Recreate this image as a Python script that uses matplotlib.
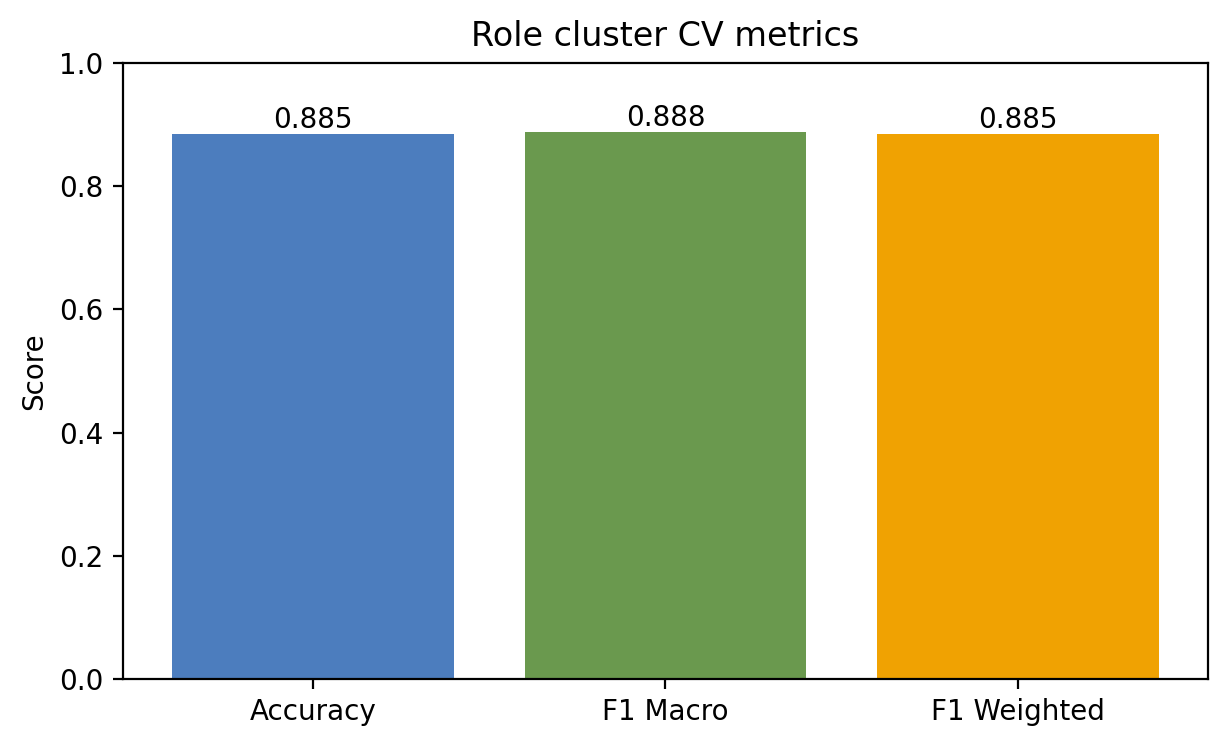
import matplotlib
matplotlib.use("Agg")
import matplotlib.pyplot as plt

# data
metrics = ["Accuracy", "F1 Macro", "F1 Weighted"]
scores = [0.885, 0.888, 0.885]
colors = ["#4c7dbe", "#6a994e", "#f0a202"]

fig = plt.figure(figsize=(6.135, 3.73), dpi=200)
ax = fig.add_axes([0.1002, 0.0898, 0.8843, 0.8257])

bars = ax.bar(metrics, scores, color=colors)
ax.bar_label(bars, labels=[f"{s:.3f}" for s in scores])

ax.set_ylim(0, 1.0)
ax.set_ylabel("Score")
ax.set_title("Role cluster CV metrics")

fig.savefig("out.png", dpi=200)
